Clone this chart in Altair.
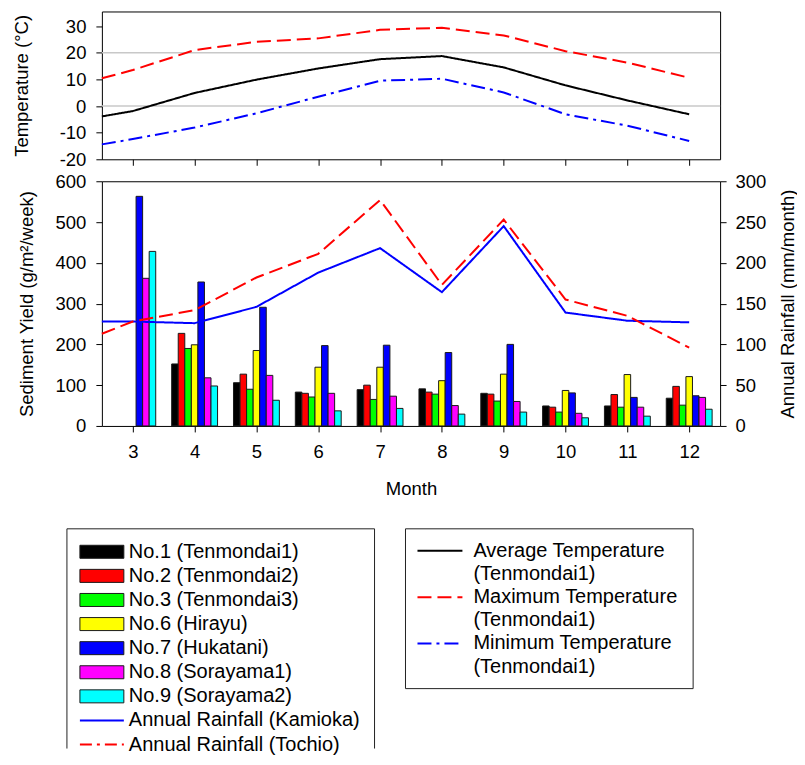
import altair as alt
import pandas as pd

FONT = "Liberation Sans"

# ---------------- data ----------------
months = [3, 4, 5, 6, 7, 8, 9, 10, 11, 12]
stations = ["No.1 (Tenmondai1)", "No.2 (Tenmondai2)", "No.3 (Tenmondai3)",
            "No.6 (Hirayu)", "No.7 (Hukatani)", "No.8 (Sorayama1)", "No.9 (Sorayama2)"]
station_colors = ["#000000", "#ff0000", "#00ff00", "#ffff00", "#0000ff", "#ff00ff", "#00ffff"]

no1 = [None, 152, 106, 83, 89, 91, 80, 49, 49, 68]
no2 = [None, 227, 127, 80, 100, 83, 78, 46, 77, 97]
no3 = [None, 190, 90, 71, 65, 78, 61, 34, 46, 51]
no6 = [None, 199, 185, 144, 144, 111, 127, 87, 126, 121]
no7 = [563, 353, 291, 197, 198, 180, 200, 81, 70, 74]
no8 = [362, 118, 124, 80, 73, 50, 60, 31, 46, 70]
no9 = [428, 98, 63, 37, 43, 29, 34, 20, 24, 41]
bar_values = [no1, no2, no3, no6, no7, no8, no9]

line_x = [2.5, 3, 4, 5, 6, 7, 8, 9, 10, 11, 12]
rain_labels = ["Annual Rainfall (Kamioka)", "Annual Rainfall (Tochio)"]
rain_colors = ["#0000ff", "#ff0000"]
rain_dashes = [[1, 0], [12, 5, 3, 5]]
rain_kamioka = [128, 128, 126, 146, 188, 218, 164, 245, 139, 129, 127]
rain_tochio = [113, 128, 142, 182, 211, 277, 173, 253, 155, 135, 96]

temp_labels = ["Average Temperature (Tenmondai1)", "Maximum Temperature (Tenmondai1)",
               "Minimum Temperature (Tenmondai1)"]
temp_colors = ["#000000", "#ff0000", "#0000ff"]
temp_dashes = [[1, 0], [14, 6], [14, 5, 3, 5]]
temp_avg = [-3.9, -1.9, 4.9, 9.9, 14.1, 17.6, 18.75, 14.5, 7.75, 2.1, -3.1]
temp_max = [10.4, 13.5, 21.0, 24.1, 25.4, 28.6, 29.4, 26.5, 20.6, 16.3, 10.6]
temp_min = [-14.4, -12.4, -8.1, -2.75, 3.5, 9.5, 10.25, 5.1, -3.1, -7.4, -13.1]
temp_grid = [0, 20]

temp_ticks = [-20, -10, 0, 10, 20, 30]
sed_ticks = [0, 100, 200, 300, 400, 500, 600]
rain_ticks = [0, 50, 100, 150, 200, 250, 300]

# ---------------- tables ----------------
temp_df = pd.DataFrame({
    "x": line_x * 3,
    "temp": temp_avg + temp_max + temp_min,
    "series": [s for s in temp_labels for _ in line_x],
})
grid_df = pd.DataFrame({"temp": temp_grid})

bar_rows = []
for i, (s, vals) in enumerate(zip(stations, bar_values)):
    for m, v in zip(months, vals):
        if v is not None:
            bar_rows.append({"month": m, "station": s, "idx": i, "value": v})
bar_df = pd.DataFrame(bar_rows)

rain_df = pd.DataFrame({
    "x": line_x * 2,
    "rain": rain_kamioka + rain_tochio,
    "series": [s for s in rain_labels for _ in line_x],
})

# ---------------- sizes ----------------
W = 619
H_TOP = 148
H_BOT = 245
GAP = 22
LEG_OFF = 81  # legend box top below legend chart origin
LEG_H = 302
BW = 0.106

xscale = alt.Scale(domain=[2.5, 12.5], nice=False, zero=False)

lab = dict(labelFont=FONT, labelFontSize=18.5, labelColor="black",
           titleFont=FONT, titleFontSize=18.5, titleFontWeight="normal", titleColor="black",
           tickColor="black", tickSize=6, domain=False, grid=False)

# ---------------- top panel ----------------
top_x_axis = alt.Axis(values=months, labels=False, title=None, **lab)
temp_axis = alt.Axis(values=temp_ticks, title="Temperature (°C)", labelPadding=10,
                     labelExpr="datum.value",
                     titleAngle=270, titleX=-80, titleY=H_TOP / 2, titleBaseline="middle",
                     titleAlign="center", **lab)
temp_scale = alt.Scale(domain=[-20, 35.5], nice=False, zero=False)

grid = alt.Chart(grid_df).mark_rule(color="#c8c8c8", strokeWidth=1.5).encode(
    y=alt.Y("temp:Q", scale=temp_scale, axis=temp_axis),
)
temp_lines = alt.Chart(temp_df).mark_line(strokeWidth=2).encode(
    x=alt.X("x:Q", scale=xscale, axis=top_x_axis),
    y=alt.Y("temp:Q", scale=temp_scale, axis=temp_axis),
    color=alt.Color("series:N", scale=alt.Scale(domain=temp_labels, range=temp_colors), legend=None),
    strokeDash=alt.StrokeDash("series:N", scale=alt.Scale(domain=temp_labels, range=temp_dashes), legend=None),
)
top = alt.layer(grid, temp_lines).properties(
    width=W, height=H_TOP, view=alt.ViewBackground(stroke="black", strokeWidth=1))

# ---------------- bottom panel ----------------
bot_x_axis = alt.Axis(values=months, title="Month", labelPadding=11, titleY=63,
                      titleBaseline="middle", **lab)
sed_axis = alt.Axis(values=sed_ticks, title="Sediment Yield (g/m²/week)", labelPadding=10,
                    titleAngle=270, titleX=-75, titleY=H_BOT / 2, titleBaseline="middle",
                    titleAlign="center", **lab)
rain_axis = alt.Axis(orient="right", values=rain_ticks, title="Annual Rainfall (mm/month)",
                     labelPadding=9, titleAngle=270, titleX=67, titleY=H_BOT / 2,
                     titleBaseline="middle", titleAlign="center", **lab)

bars = alt.Chart(bar_df).transform_calculate(
    x0=f"datum.month + (datum.idx - 3.5) * {BW}",
    x1=f"datum.month + (datum.idx - 2.5) * {BW}",
).mark_rect(stroke="#1a1a1a", strokeWidth=1).encode(
    x=alt.X("x0:Q", scale=xscale, axis=bot_x_axis),
    x2="x1:Q",
    y=alt.Y("value:Q", scale=alt.Scale(domain=[0, 600], nice=False), axis=sed_axis),
    y2=alt.datum(0),
    color=alt.Color("station:N", scale=alt.Scale(domain=stations, range=station_colors), legend=None),
)
rain = alt.Chart(rain_df).mark_line(strokeWidth=2).encode(
    x=alt.X("x:Q", scale=xscale, axis=bot_x_axis),
    y=alt.Y("rain:Q", scale=alt.Scale(domain=[0, 300], nice=False), axis=rain_axis),
    color=alt.Color("series:N", scale=alt.Scale(domain=rain_labels, range=rain_colors), legend=None),
    strokeDash=alt.StrokeDash("series:N", scale=alt.Scale(domain=rain_labels, range=rain_dashes), legend=None),
)
bottom = alt.layer(bars, rain).resolve_scale(y="independent", color="independent").properties(
    width=W, height=H_BOT, view=alt.ViewBackground(stroke="black", strokeWidth=1))

# ---------------- legend panel ----------------
left_items = stations + rain_labels
left_df = pd.DataFrame({"row": list(range(len(left_items))), "label": left_items})
left_y = alt.Scale(domain=[0, 8], range=[LEG_OFF + 23, LEG_OFF + 216])

right_lines = []
for t in temp_labels:
    a, b = t.split(" (")
    right_lines += [a, "(" + b]
right_text_df = pd.DataFrame({"row": list(range(len(right_lines))), "label": right_lines})
right_sym_df = pd.DataFrame({"row": [0, 2, 4], "label": temp_labels})
right_y = alt.Scale(domain=[0, 5], range=[LEG_OFF + 22, LEG_OFF + 138])

one = pd.DataFrame({"a": [0]})
box_style = dict(color="#222222", strokeWidth=1)
box_l1 = alt.Chart(one).mark_rule(**box_style).encode(
    x=alt.value(-35), y=alt.value(LEG_OFF), y2=alt.value(LEG_H - 1))
box_l2 = alt.Chart(one).mark_rule(**box_style).encode(
    x=alt.value(273), y=alt.value(LEG_OFF), y2=alt.value(LEG_H - 1))
box_l3 = alt.Chart(one).mark_rule(**box_style).encode(
    x=alt.value(-35), x2=alt.value(273), y=alt.value(LEG_OFF))
box_right = alt.Chart(one).mark_rect(fillOpacity=0, stroke="#222222", strokeWidth=1).encode(
    x=alt.value(304), x2=alt.value(592), y=alt.value(LEG_OFF), y2=alt.value(LEG_OFF + 160))

swatches = alt.Chart(left_df).transform_filter(
    alt.FieldOneOfPredicate(field="label", oneOf=stations)
).transform_calculate(y0="datum.row - 0.27", y1="datum.row + 0.27").mark_rect(
    stroke="#1a1a1a", strokeWidth=1).encode(
    x=alt.value(-22), x2=alt.value(22),
    y=alt.Y("y0:Q", scale=left_y, axis=None), y2="y1:Q",
    color=alt.Color("label:N", scale=alt.Scale(domain=stations, range=station_colors), legend=None),
)
rain_sym = alt.Chart(left_df).transform_filter(
    alt.FieldOneOfPredicate(field="label", oneOf=rain_labels)
).mark_rule(strokeWidth=2).encode(
    x=alt.value(-22), x2=alt.value(22),
    y=alt.Y("row:Q", scale=left_y, axis=None),
    color=alt.Color("label:N", scale=alt.Scale(domain=rain_labels, range=rain_colors), legend=None),
    strokeDash=alt.StrokeDash("label:N", scale=alt.Scale(domain=rain_labels, range=rain_dashes), legend=None),
)
left_text = alt.Chart(left_df).mark_text(align="left", baseline="middle", font=FONT,
                                         fontSize=20, color="black").encode(
    x=alt.value(27), y=alt.Y("row:Q", scale=left_y, axis=None), text="label:N")

temp_sym = alt.Chart(right_sym_df).mark_rule(strokeWidth=2).encode(
    x=alt.value(316), x2=alt.value(361),
    y=alt.Y("row:Q", scale=right_y, axis=None),
    color=alt.Color("label:N", scale=alt.Scale(domain=temp_labels, range=temp_colors), legend=None),
    strokeDash=alt.StrokeDash("label:N", scale=alt.Scale(domain=temp_labels, range=temp_dashes), legend=None),
)
right_text = alt.Chart(right_text_df).mark_text(align="left", baseline="middle", font=FONT,
                                                fontSize=20, color="black").encode(
    x=alt.value(372), y=alt.Y("row:Q", scale=right_y, axis=None), text="label:N")

legend = alt.layer(box_l1, box_l2, box_l3, box_right, swatches, rain_sym, left_text,
                   temp_sym, right_text).resolve_scale(
    y="independent", color="independent", strokeDash="independent"
).properties(width=W, height=LEG_H, view=alt.ViewBackground(stroke="transparent"))

chart = alt.vconcat(top, bottom, legend, spacing=GAP, bounds="flush").properties(
    padding={"left": 4, "top": 2, "right": 0, "bottom": 0}
)

chart.save("out.html", embed_options={"renderer": "svg", "actions": False})
